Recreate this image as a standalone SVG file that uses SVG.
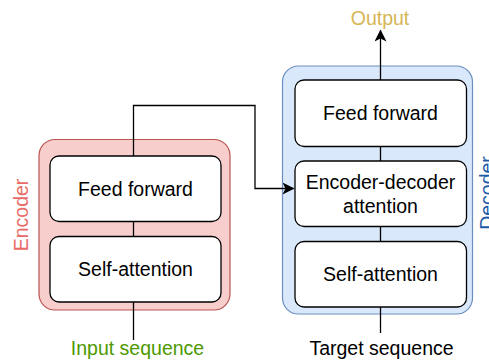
<svg xmlns="http://www.w3.org/2000/svg" width="489" height="363" viewBox="0 0 489 363">
  <style>
    text { font-family: "Liberation Sans", Arial, Helvetica, sans-serif; font-size: 19.5px; text-anchor: middle; }
    .block { fill: #ffffff; stroke: #000000; stroke-width: 1.3; }
    .edge { fill: none; stroke: #000000; stroke-width: 1.3; }
  </style>
  <defs>
    <marker id="arrow" viewBox="0 0 12 12" refX="11" refY="6" markerWidth="12" markerHeight="12" markerUnits="userSpaceOnUse" orient="auto">
      <path d="M0,0 L12,6 L0,12 L3,6 Z" fill="#000000"/>
    </marker>
  </defs>

  <!-- Encoder stack -->
  <g id="encoder">
    <rect x="39" y="139.5" width="191" height="170.5" rx="16" fill="#f8cecc" stroke="#b85450" stroke-width="1.2"/>
    <text transform="translate(27.5,215) rotate(-90)" fill="#ea6b66">Encoder</text>
  </g>
  <g id="enc-feed-forward">
    <rect class="block" x="50" y="156" width="171" height="65.5" rx="9"/>
    <text x="135.5" y="196">Feed forward</text>
  </g>
  <g id="enc-self-attention">
    <rect class="block" x="50" y="236.5" width="171" height="65.5" rx="9"/>
    <text x="135.5" y="276">Self-attention</text>
  </g>

  <!-- Decoder stack -->
  <g id="decoder">
    <rect x="282.5" y="66" width="190" height="248" rx="16" fill="#dae8fc" stroke="#6c8ebf" stroke-width="1.2"/>
    <text transform="translate(494,193) rotate(-90)" fill="#1a5aa6">Decoder</text>
  </g>
  <g id="dec-feed-forward">
    <rect class="block" x="295" y="80" width="171.5" height="66.5" rx="9"/>
    <text x="380.5" y="120">Feed forward</text>
  </g>
  <g id="dec-enc-dec-attention">
    <rect class="block" x="295" y="161" width="171.5" height="65.5" rx="9"/>
    <text x="380.5" y="188.5">Encoder-decoder</text>
    <text x="380.5" y="213">attention</text>
  </g>
  <g id="dec-self-attention">
    <rect class="block" x="295" y="241.5" width="171.5" height="65.5" rx="9"/>
    <text x="380.5" y="281">Self-attention</text>
  </g>

  <!-- Inputs and output labels -->
  <g id="input-sequence">
    <text x="137.5" y="355" fill="#4d9900">Input sequence</text>
  </g>
  <g id="target-sequence">
    <text x="381.5" y="355" fill="#000000">Target sequence</text>
  </g>
  <g id="output">
    <text x="380" y="25" fill="#d6b656">Output</text>
  </g>

  <!-- Connectors -->
  <g id="connectors">
    <path class="edge" d="M133.5,340 V302"/>
    <path class="edge" d="M133.5,236.5 V221.5"/>
    <path class="edge" d="M133.5,156 V105.5 H255 V188.5 H293.5" marker-end="url(#arrow)"/>
    <path class="edge" d="M380.5,333 V307"/>
    <path class="edge" d="M380.5,241.5 V226.5"/>
    <path class="edge" d="M380.5,161 V146.5"/>
    <path class="edge" d="M380.5,80 V30.5" marker-end="url(#arrow)"/>
  </g>
</svg>
